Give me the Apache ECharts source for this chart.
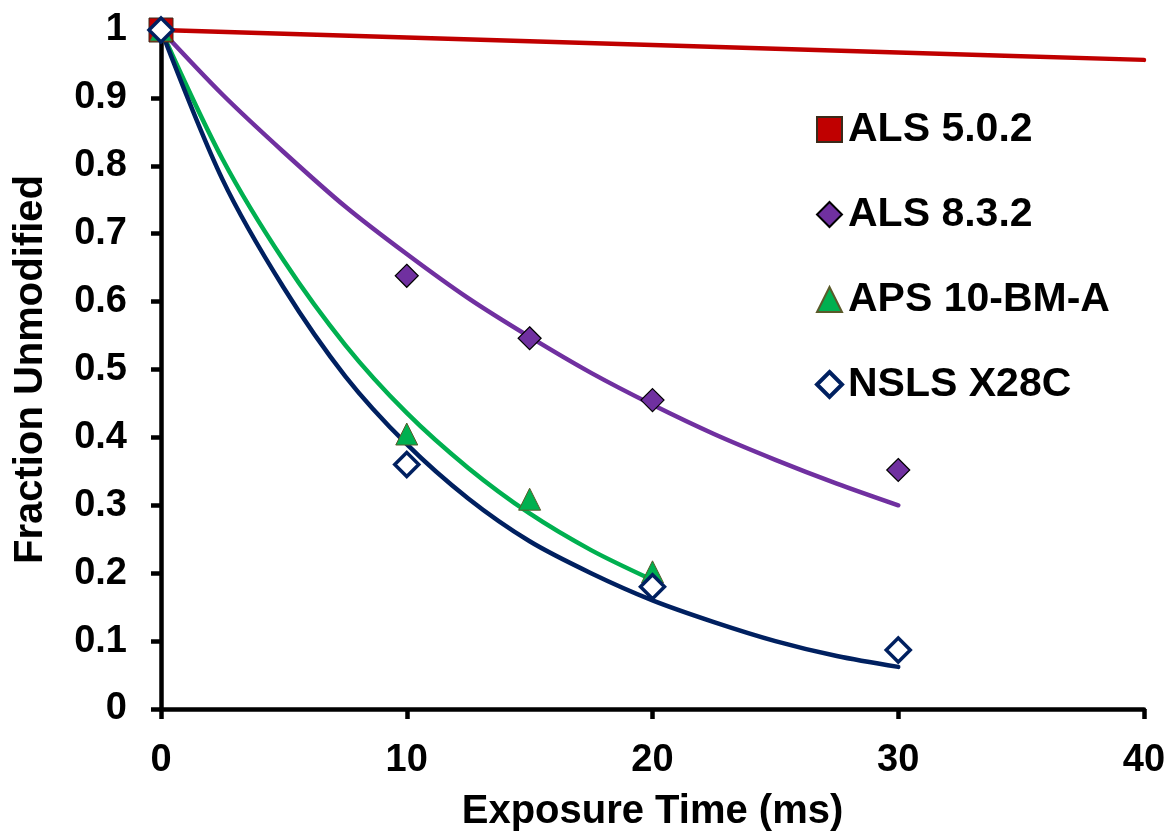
<!DOCTYPE html>
<html>
<head>
<meta charset="utf-8">
<script src="https://cdn.jsdelivr.net/npm/echarts@6/dist/echarts.min.js"></script>
<style>
html,body{margin:0;padding:0;background:#fff;}
#chart{width:1170px;height:837px;}
</style>
</head>
<body>
<div id="chart"></div>
<script>
// Measured points [time ms, fraction]
const als502Points = [[0, 1.0]];
const als832Points = [[0, 1.0], [10, 0.638], [15, 0.546], [20, 0.455], [30, 0.352]];
const aps10bmaPoints = [[0, 1.0], [10, 0.405], [15, 0.309], [20, 0.202]];
const nslsX28cPoints = [[0, 1.0], [10, 0.360], [20, 0.180], [30, 0.087]];

// Fit curves
const als502Fit = [[0, 1.0], [10, 0.989], [20, 0.978], [30, 0.967], [40, 0.956]];
const als832Fit = [[0, 1.0], [2.5, 0.905], [5, 0.82], [7.5, 0.74], [10, 0.67], [12.5, 0.605], [15, 0.548], [17.5, 0.495], [20, 0.448], [22.5, 0.405], [25, 0.367], [27.5, 0.332], [30, 0.30]];
const aps10bmaFit = [[0, 1.0], [2.5, 0.81], [5, 0.66], [7.5, 0.536], [10, 0.436], [12.5, 0.355], [15, 0.288], [17.5, 0.234], [20, 0.19]];
const nslsX28cFit = [[0, 1.0], [2.5, 0.78], [5, 0.62], [7.5, 0.49], [10, 0.39], [12.5, 0.31], [15, 0.247], [17.5, 0.2], [20, 0.16], [22.5, 0.128], [25, 0.1], [27.5, 0.078], [30, 0.062]];

const seriesNames = ['ALS 5.0.2', 'ALS 8.3.2', 'APS 10-BM-A', 'NSLS X28C'];

const chart = echarts.init(document.getElementById('chart'));
const font = '"Liberation Sans", Arial, sans-serif';
const axisLine = {show: true, lineStyle: {color: '#000', width: 4.5}};
const axisTick = {show: true, inside: false, length: 10, lineStyle: {color: '#000', width: 4.5}};

function fit(name, data, color, z) {
  return {name: name + ' fit', type: 'line', data: data, smooth: 0.3, symbol: 'none',
    lineStyle: {color: color, width: 4.5, cap: 'round'}, z: z, silent: true};
}

chart.setOption({
  animation: false,
  backgroundColor: '#fff',
  grid: {left: 161, right: 26, top: 30, bottom: 126, containLabel: false},
  xAxis: {
    type: 'value', min: 0, max: 40, interval: 10,
    name: 'Exposure Time (ms)', nameLocation: 'middle', nameGap: 83,
    nameTextStyle: {fontFamily: font, fontWeight: 'bold', fontSize: 40, color: '#000'},
    axisLine: axisLine, axisTick: axisTick, splitLine: {show: false},
    axisLabel: {fontFamily: font, fontWeight: 'bold', fontSize: 38, color: '#000', margin: 33}
  },
  yAxis: {
    type: 'value', min: 0, max: 1, interval: 0.1,
    name: 'Fraction Unmodified', nameLocation: 'middle', nameGap: 110, nameRotate: 90,
    nameTextStyle: {fontFamily: font, fontWeight: 'bold', fontSize: 40, color: '#000'},
    axisLine: axisLine, axisTick: axisTick, splitLine: {show: false},
    axisLabel: {fontFamily: font, fontWeight: 'bold', fontSize: 38, color: '#000', margin: 34,
      formatter: v => String(Math.round(v * 10) / 10)}
  },
  legend: {
    data: [
      {name: seriesNames[0]},
      {name: seriesNames[1]},
      {name: seriesNames[2]},
      {name: seriesNames[3], itemStyle: {color: '#fff', borderColor: '#002060', borderWidth: 4}}
    ],
    orient: 'vertical', left: 810, top: 104,
    itemWidth: 25, itemHeight: 25, itemGap: 44,
    textStyle: {fontFamily: font, fontWeight: 'bold', fontSize: 41, color: '#000', padding: [0, 0, 0, 1]}
  },
  series: [
    fit(seriesNames[0], als502Fit, '#C00000', 2),
    fit(seriesNames[1], als832Fit, '#7030A0', 2),
    fit(seriesNames[2], aps10bmaFit, '#00B050', 2),
    fit(seriesNames[3], nslsX28cFit, '#002060', 2),
    {name: seriesNames[0], type: 'scatter', data: als502Points, symbol: 'rect', symbolSize: 24, clip: false, z: 5,
      itemStyle: {color: '#C00000', borderColor: '#3a2a1a', borderWidth: 1, opacity: 1}},
    {name: seriesNames[1], type: 'scatter', data: als832Points, symbol: 'diamond', symbolSize: 23, clip: false, z: 6,
      itemStyle: {color: '#7030A0', borderColor: '#000', borderWidth: 1.2, opacity: 1}},
    {name: seriesNames[2], type: 'scatter', data: aps10bmaPoints, symbol: 'triangle', symbolSize: 22, clip: false, z: 7,
      itemStyle: {color: '#00B050', borderColor: '#5a5a2a', borderWidth: 1, opacity: 1}},
    {name: seriesNames[3], type: 'scatter', data: nslsX28cPoints, symbol: 'diamond', symbolSize: 24, clip: false, z: 8,
      itemStyle: {color: '#fff', borderColor: '#002060', borderWidth: 3.5, opacity: 1}}
  ]
});
</script>
</body>
</html>
